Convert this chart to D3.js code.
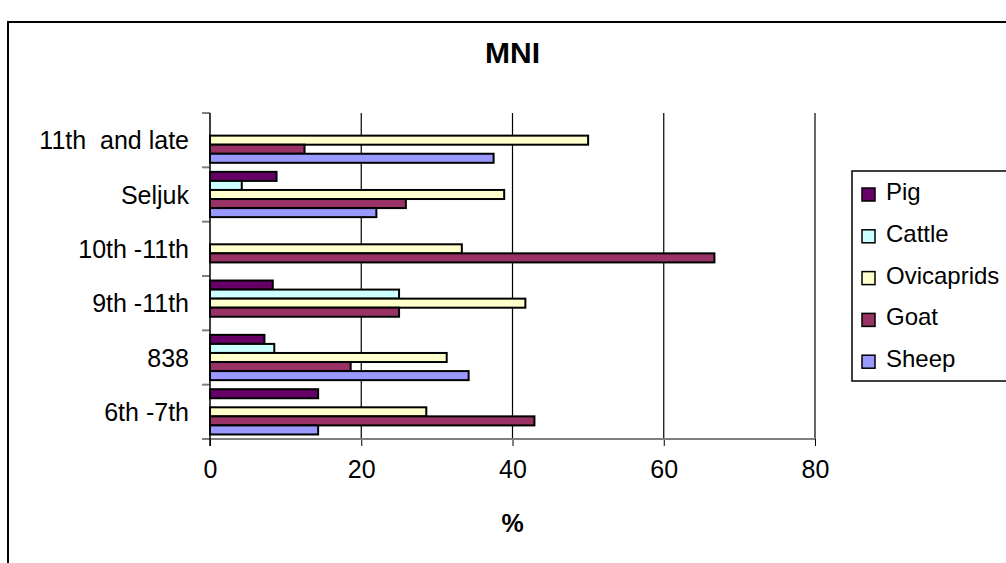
<!DOCTYPE html>
<html>
<head>
<meta charset="utf-8">
<script src="https://cdn.jsdelivr.net/npm/d3@7"></script>
<style>
html,body{margin:0;padding:0;background:#fff;}
svg{display:block;font-family:"Liberation Sans",Arial,sans-serif;}
</style>
</head>
<body>
<svg id="chart" width="1006" height="563"></svg>
<script>
const categories = ["11th  and late", "Seljuk", "10th -11th", "9th -11th", "838", "6th -7th"];
const seriesNames = ["Pig", "Cattle", "Ovicaprids", "Goat", "Sheep"];
const seriesColors = ["#660066", "#CCFFFF", "#FFFFCC", "#993366", "#9999FF"];
const pig        = [0,    8.8,  0,    8.3,  7.2,  14.3];
const cattle     = [0,    4.2,  0,    25,   8.5,  0];
const ovicaprids = [50,   38.9, 33.3, 41.7, 31.3, 28.6];
const goat       = [12.5, 25.9, 66.7, 25,   18.6, 42.9];
const sheep      = [37.5, 22.0, 0,    0,    34.2, 14.3];
const xTicks = [0, 20, 40, 60, 80];
const titleText = "MNI";
const xTitle = "%";

const seriesValues = [pig, cattle, ovicaprids, goat, sheep];

const svg = d3.select("#chart");
const pLeft = 210, pRight = 815, pTop = 113, pBottom = 439;

// outer border
svg.append("rect").attr("x", 8).attr("y", 22).attr("width", 1010).attr("height", 560)
  .attr("fill", "#fff").attr("stroke", "#000").attr("stroke-width", 2);

const x = d3.scaleLinear().domain([0, 80]).range([pLeft, pRight]);
const y0 = d3.scaleBand().domain(categories).range([pTop, pBottom]).paddingInner(1/6).paddingOuter(1/12);
const y1 = d3.scaleBand().domain(seriesNames).range([0, y0.bandwidth()]);

// gridlines
svg.append("g").selectAll("line").data(xTicks.filter(d => d > 0)).join("line")
  .attr("x1", d => x(d)).attr("x2", d => x(d)).attr("y1", pTop).attr("y2", pBottom)
  .attr("stroke", "#000").attr("stroke-width", 1.2);

// bars
const groups = svg.append("g").selectAll("g").data(categories).join("g")
  .attr("transform", c => `translate(0,${y0(c)})`);
groups.each(function(c, ci) {
  const g = d3.select(this);
  seriesNames.forEach((s, si) => {
    const v = seriesValues[si][ci];
    if (v <= 0) return;
    g.append("rect")
      .attr("x", x(0)).attr("y", y1(s))
      .attr("width", x(v) - x(0)).attr("height", y1.bandwidth())
      .attr("fill", seriesColors[si]).attr("stroke", "#000").attr("stroke-width", 2);
  });
});

// bottom axis
const xAxis = d3.axisBottom(x).tickValues(xTicks).tickSize(7).tickPadding(14);
const gx = svg.append("g").attr("transform", `translate(0,${pBottom})`).call(xAxis);
gx.select(".domain").remove();
gx.selectAll(".tick line").attr("stroke", "#000");
gx.selectAll("text").attr("font-size", 25).attr("fill", "#000")
  .attr("font-family", "Liberation Sans, Arial, sans-serif");
svg.append("line").attr("x1", pLeft - 8).attr("x2", pRight).attr("y1", pBottom).attr("y2", pBottom)
  .attr("stroke", "#808080").attr("stroke-width", 2);

// left axis
const yAxisScale = d3.scaleBand().domain(categories).range([pTop, pBottom]);
svg.append("g").selectAll("line").data(d3.range(categories.length + 1)).join("line")
  .attr("x1", pLeft - 8).attr("x2", pLeft)
  .attr("y1", i => pTop + i * yAxisScale.step()).attr("y2", i => pTop + i * yAxisScale.step())
  .attr("stroke", "#808080").attr("stroke-width", 2);
svg.append("line").attr("x1", pLeft).attr("x2", pLeft).attr("y1", pTop).attr("y2", pBottom + 7)
  .attr("stroke", "#000").attr("stroke-width", 1.5);
svg.append("g").selectAll("text").data(categories).join("text")
  .attr("x", 189).attr("y", c => y0(c) + y0.bandwidth() / 2)
  .attr("text-anchor", "end").attr("dominant-baseline", "central")
  .attr("font-size", 25).attr("fill", "#000")
  .style("white-space", "pre").attr("xml:space", "preserve")
  .text(c => c);

// titles
svg.append("text").attr("x", (pLeft + pRight) / 2).attr("y", 52)
  .attr("text-anchor", "middle").attr("dominant-baseline", "central")
  .attr("font-size", 30).attr("font-weight", "bold").text(titleText);
svg.append("text").attr("x", (pLeft + pRight) / 2).attr("y", 523)
  .attr("text-anchor", "middle").attr("dominant-baseline", "central")
  .attr("font-size", 25).attr("font-weight", "bold").text(xTitle);

// legend
const lg = svg.append("g");
lg.append("rect").attr("x", 852).attr("y", 171).attr("width", 170).attr("height", 210)
  .attr("fill", "#fff").attr("stroke", "#000").attr("stroke-width", 1.5);
seriesNames.forEach((s, i) => {
  const base = 200 + i * 41.8;
  lg.append("rect").attr("x", 862).attr("y", base - 12).attr("width", 13).attr("height", 13)
    .attr("fill", seriesColors[i]).attr("stroke", "#000").attr("stroke-width", 1.5);
  lg.append("text").attr("x", 886).attr("y", base).attr("font-size", 24).attr("fill", "#000").text(s);
});
</script>
</body>
</html>
